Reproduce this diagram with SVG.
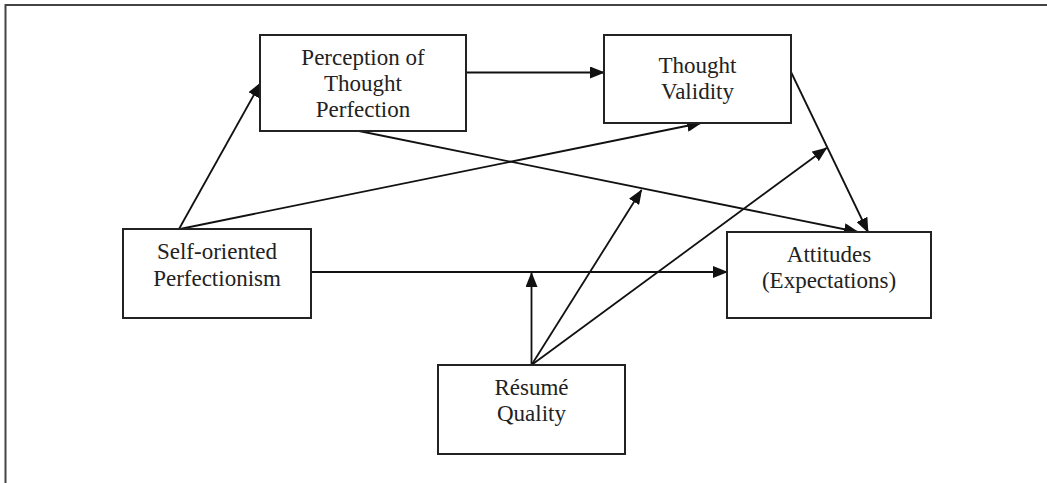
<svg xmlns="http://www.w3.org/2000/svg" width="1047" height="483" viewBox="0 0 1047 483">
<style>
.box{fill:#fff;stroke:#222;stroke-width:2}
.t{font-family:"Liberation Serif","Times New Roman",serif;font-size:23px;fill:#222;text-anchor:middle}
.c{stroke:#111;stroke-width:1.8;fill:none;marker-end:url(#ah)}
.frame{stroke:#444;stroke-width:2;fill:none}
</style>
<defs>
<marker id="ah" markerUnits="userSpaceOnUse" markerWidth="15" markerHeight="12" viewBox="0 0 15 12" refX="14" refY="6" orient="auto">
<path d="M0,0 L15,6 L0,12 z" fill="#111"/>
</marker>
</defs>
<rect width="1047" height="483" fill="#fff"/>
<path class="frame" d="M5.5,483 V5 H1047"/>
<g id="connectors">
<line class="c" x1="179" y1="229" x2="260.5" y2="83"/>
<line class="c" x1="180" y1="229" x2="701" y2="123"/>
<line class="c" x1="466" y1="72.5" x2="604" y2="72.5"/>
<line class="c" x1="359" y1="131" x2="858" y2="232"/>
<line class="c" x1="791" y1="72" x2="868" y2="232"/>
<line class="c" x1="311" y1="272" x2="727" y2="272"/>
<line class="c" x1="531.5" y1="365" x2="531.5" y2="273"/>
<line class="c" x1="531.5" y1="365" x2="641.5" y2="190"/>
<line class="c" x1="531.5" y1="365" x2="826.5" y2="148"/>
</g>
<g id="perception">
<rect class="box" x="260" y="35" width="206" height="96"/>
<text class="t" x="363" y="65">Perception of</text>
<text class="t" x="363" y="91">Thought</text>
<text class="t" x="363" y="117">Perfection</text>
</g>
<g id="validity">
<rect class="box" x="604" y="35" width="187" height="88"/>
<text class="t" x="697.5" y="73">Thought</text>
<text class="t" x="697.5" y="99">Validity</text>
</g>
<g id="self">
<rect class="box" x="123" y="229" width="188" height="89"/>
<text class="t" x="217" y="259">Self-oriented</text>
<text class="t" x="217" y="286">Perfectionism</text>
</g>
<g id="attitudes">
<rect class="box" x="727" y="232" width="204" height="86"/>
<text class="t" x="829" y="262">Attitudes</text>
<text class="t" x="829" y="288">(Expectations)</text>
</g>
<g id="resume">
<rect class="box" x="438" y="365" width="187" height="89"/>
<text class="t" x="531.5" y="395">Résumé</text>
<text class="t" x="531.5" y="421">Quality</text>
</g>
</svg>
